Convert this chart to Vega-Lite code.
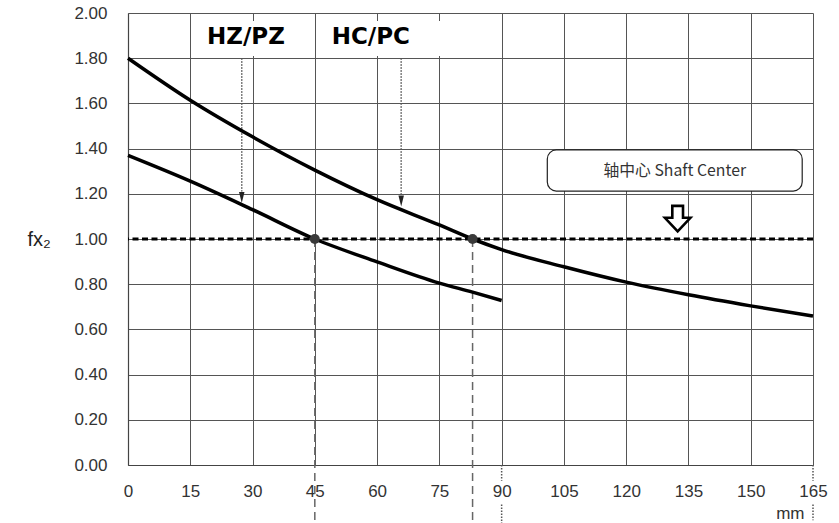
{
  "$schema": "https://vega.github.io/schema/vega-lite/v6.json",
  "width": 685,
  "height": 452,
  "autosize": "none",
  "padding": {"left": 128, "top": 13, "right": 26, "bottom": 58},
  "background": "white",
  "config": {
    "view": {"stroke": null},
    "font": "Liberation Sans"
  },
  "datasets": {
    "curves": [
      {"series": "HC/PC", "mm": 0, "fx2": 1.80},
      {"series": "HC/PC", "mm": 15, "fx2": 1.614},
      {"series": "HC/PC", "mm": 30, "fx2": 1.452},
      {"series": "HC/PC", "mm": 45, "fx2": 1.305},
      {"series": "HC/PC", "mm": 60, "fx2": 1.174},
      {"series": "HC/PC", "mm": 75, "fx2": 1.062},
      {"series": "HC/PC", "mm": 83, "fx2": 1.0},
      {"series": "HC/PC", "mm": 90, "fx2": 0.953},
      {"series": "HC/PC", "mm": 105, "fx2": 0.877},
      {"series": "HC/PC", "mm": 120, "fx2": 0.809},
      {"series": "HC/PC", "mm": 135, "fx2": 0.753},
      {"series": "HC/PC", "mm": 150, "fx2": 0.704},
      {"series": "HC/PC", "mm": 165, "fx2": 0.659},
      {"series": "HZ/PZ", "mm": 0, "fx2": 1.370},
      {"series": "HZ/PZ", "mm": 15, "fx2": 1.256},
      {"series": "HZ/PZ", "mm": 30, "fx2": 1.130},
      {"series": "HZ/PZ", "mm": 45, "fx2": 1.0},
      {"series": "HZ/PZ", "mm": 60, "fx2": 0.899},
      {"series": "HZ/PZ", "mm": 75, "fx2": 0.805},
      {"series": "HZ/PZ", "mm": 83, "fx2": 0.765},
      {"series": "HZ/PZ", "mm": 90, "fx2": 0.728}
    ]
  },
  "layer": [
    {
      "data": {"values": [
        {"x": 17.5, "x2": 39.5, "y": 1.81, "y2": 1.965},
        {"x": 46.5, "x2": 77.5, "y": 1.81, "y2": 1.965}
      ]},
      "mark": {"type": "rect", "fill": "white", "strokeWidth": 0},
      "encoding": {
        "x": {"field": "x", "type": "quantitative", "scale": {"domain": [0, 165], "nice": false, "zero": false},
          "axis": {
            "values": [0, 15, 30, 45, 60, 75, 90, 105, 120, 135, 150, 165],
            "grid": true, "gridColor": "#555", "gridWidth": 1,
            "domainColor": "#444", "domainWidth": 1.2,
            "ticks": false, "labelPadding": 18, "labelFontSize": 17, "labelFont": "Liberation Sans",
            "labelColor": "#333", "labelOverlap": false, "labelFlush": false, "labelBound": false,
            "title": "mm", "titleFont": "Liberation Sans", "titleFontSize": 17, "titleFontWeight": "normal",
            "titleColor": "#333", "titleAlign": "right", "titleAnchor": "end", "titleX": 676, "titleY": 53,
            "titleBaseline": "alphabetic"
          }},
        "x2": {"field": "x2"},
        "y": {"field": "y", "type": "quantitative", "scale": {"domain": [0, 2], "nice": false, "zero": false},
          "axis": {
            "values": [0, 0.2, 0.4, 0.6, 0.8, 1.0, 1.2, 1.4, 1.6, 1.8, 2.0],
            "format": ".2f",
            "grid": true, "gridColor": "#555", "gridWidth": 1,
            "domainColor": "#444", "domainWidth": 1.2,
            "ticks": false, "labelPadding": 21, "labelFontSize": 17, "labelFont": "Liberation Sans",
            "labelColor": "#333", "labelOverlap": false, "labelFlush": false, "labelBound": false,
            "title": "fx₂", "titleFont": "Liberation Sans", "titleFontSize": 20, "titleFontWeight": "normal",
            "titleColor": "#222", "titleAngle": 0, "titleAlign": "left", "titleBaseline": "middle",
            "titleX": -101, "titleY": 226
          }},
        "y2": {"field": "y2"}
      }
    },
    {
      "data": {"values": [{"x": 101, "x2": 162.4, "y": 1.212, "y2": 1.394}]},
      "mark": {"type": "rect", "fill": "white", "stroke": "#222", "strokeWidth": 1.2, "cornerRadius": 9},
      "encoding": {
        "x": {"field": "x", "type": "quantitative"},
        "x2": {"field": "x2"},
        "y": {"field": "y", "type": "quantitative"},
        "y2": {"field": "y2"}
      }
    },
    {
      "data": {"values": [{"label": "轴中心 Shaft Center", "x": 131.7, "y": 1.303}]},
      "mark": {"type": "text", "font": "Noto Sans CJK SC", "fontSize": 15.8, "color": "#333", "align": "center", "baseline": "middle"},
      "encoding": {
        "x": {"field": "x", "type": "quantitative"},
        "y": {"field": "y", "type": "quantitative"},
        "text": {"field": "label"}
      }
    },
    {
      "data": {"values": [
        {"label": "HZ/PZ", "x": 28.4, "y": 1.895},
        {"label": "HC/PC", "x": 58.5, "y": 1.895}
      ]},
      "mark": {"type": "text", "font": "DejaVu Sans", "fontWeight": "bold", "fontSize": 23, "color": "black", "align": "center", "baseline": "middle"},
      "encoding": {
        "x": {"field": "x", "type": "quantitative"},
        "y": {"field": "y", "type": "quantitative"},
        "text": {"field": "label"}
      }
    },
    {
      "data": {"values": [
        {"x": 27.4, "y": 1.8, "y2": 1.21},
        {"x": 65.8, "y": 1.8, "y2": 1.195}
      ]},
      "mark": {"type": "rule", "color": "#555", "strokeWidth": 1.5, "strokeDash": [1.5, 1.5]},
      "encoding": {
        "x": {"field": "x", "type": "quantitative"},
        "y": {"field": "y", "type": "quantitative"},
        "y2": {"field": "y2"}
      }
    },
    {
      "data": {"values": [
        {"x": 27.4, "y": 1.184},
        {"x": 65.8, "y": 1.168}
      ]},
      "mark": {"type": "point", "shape": "M -0.5 -1 L 0.5 -1 L 0 1 Z", "size": 121, "filled": true, "color": "#222", "opacity": 1},
      "encoding": {
        "x": {"field": "x", "type": "quantitative"},
        "y": {"field": "y", "type": "quantitative"}
      }
    },
    {
      "data": {"values": [{"x": 45}, {"x": 83}]},
      "mark": {"type": "rule", "color": "#666", "strokeWidth": 1.5, "strokeDash": [8, 5]},
      "encoding": {
        "x": {"field": "x", "type": "quantitative"},
        "y": {"datum": 1.0},
        "y2": {"datum": -0.26}
      }
    },
    {
      "data": {"values": [
        {"x": 90, "y": 0, "y2": -0.07},
        {"x": 90, "y": -0.175, "y2": -0.26},
        {"x": 165, "y": 0, "y2": -0.07},
        {"x": 165, "y": -0.175, "y2": -0.245}
      ]},
      "mark": {"type": "rule", "color": "#555", "strokeWidth": 1.5, "strokeDash": [1.5, 1.5]},
      "encoding": {
        "x": {"field": "x", "type": "quantitative"},
        "y": {"field": "y", "type": "quantitative"},
        "y2": {"field": "y2"}
      }
    },
    {
      "data": {"values": [{"fx2": 1.0}]},
      "mark": {"type": "rule", "color": "black", "strokeWidth": 3, "strokeDash": [6, 3.5]},
      "encoding": {
        "y": {"field": "fx2", "type": "quantitative"}
      }
    },
    {
      "data": {"name": "curves"},
      "mark": {"type": "line", "color": "black", "strokeWidth": 3.5, "interpolate": "monotone", "strokeCap": "butt"},
      "encoding": {
        "x": {"field": "mm", "type": "quantitative"},
        "y": {"field": "fx2", "type": "quantitative"},
        "detail": {"field": "series"}
      }
    },
    {
      "data": {"values": [{"mm": 45, "fx2": 1.0}, {"mm": 83, "fx2": 1.0}]},
      "mark": {"type": "point", "shape": "circle", "filled": true, "size": 100, "color": "#3a3a3a", "opacity": 1},
      "encoding": {
        "x": {"field": "mm", "type": "quantitative"},
        "y": {"field": "fx2", "type": "quantitative"}
      }
    },
    {
      "data": {"values": [{"x": 132.4, "y": 1.09}]},
      "mark": {"type": "point", "shape": "M -0.42 -1 L 0.42 -1 L 0.42 -0.07 L 1 -0.07 L 0 1 L -1 -0.07 L -0.42 -0.07 Z", "size": 650, "filled": false, "fill": "white", "stroke": "black", "strokeWidth": 2.6, "opacity": 1},
      "encoding": {
        "x": {"field": "x", "type": "quantitative"},
        "y": {"field": "y", "type": "quantitative"}
      }
    }
  ]
}
